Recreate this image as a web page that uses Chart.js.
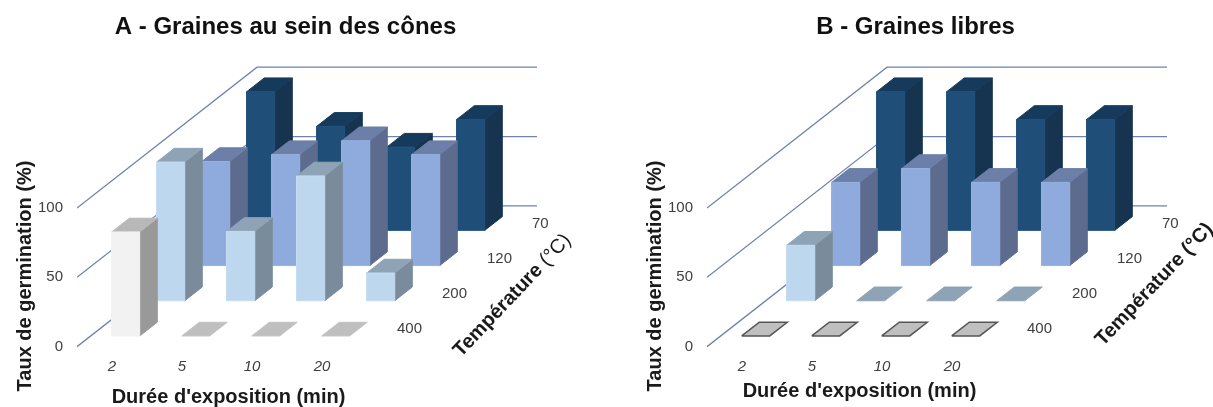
<!DOCTYPE html>
<html>
<head>
<meta charset="utf-8">
<style>
  html, body { margin: 0; background: #fff; }
  canvas { position: absolute; top: 0; }
</style>
<script src="https://cdn.jsdelivr.net/npm/chart.js@4"></script>
</head>
<body>
<canvas id="panelA" width="583" height="407" style="left:0"></canvas>
<canvas id="panelB" width="583" height="407" style="left:630px"></canvas>
<script>
// Data (germination %)
const DURATIONS = ["2", "5", "10", "20"];
const TEMPERATURES = ["70", "120", "200", "400"];
const VALUE_TICKS = [0, 50, 100];

const A_70 = [100, 75, 60, 80];
const A_120 = [75, 80, 90, 80];
const A_200 = [100, 50, 90, 20];
const A_400 = [75, 0, 0, 0];

const B_70 = [100, 100, 80, 80];
const B_120 = [60, 70, 60, 60];
const B_200 = [40, 0, 0, 0];
const B_400 = [0, 0, 0, 0];

const FONT = "'Liberation Sans', Arial, sans-serif";

// face colours per temperature row
const ROW_COLORS = [
  { front: "#1f4e79", top: "#163a5c", side: "#16334f", edge: "#23527d" },
  { front: "#8faadc", top: "#6b7fa8", side: "#5c6b8e", edge: "#98b1df" },
  { front: "#bdd7ee", top: "#8ea3b5", side: "#7a8c9c", edge: "#c5dcf0" },
  { front: "#f2f2f2", top: "#b8b8b8", side: "#999999", edge: "#f2f2f2" },
];

// oblique projection: one row of depth moves this much in scale units
const DEPTH_X = 45 / 70;
const DEPTH_Y = 35.2 / 1.387;
const BAR_W = 0.4;
const BAR_D = 0.39;

// layout, px
const AXIS_W = 77, TITLE_H = 54, AREA_BOTTOM = 356, ZERO_Y = 346.7;
const PX_X = 70, PX_Y = 1.387, RIGHT_PAD = 12, CANVAS_W = 583;

function project(c, d, v) {
  return { x: c + d * DEPTH_X, y: v + d * DEPTH_Y };
}

function face(points, fill, edge, width) {
  return {
    data: points.concat([points[0]]),
    showLine: true,
    fill: "shape",
    backgroundColor: fill,
    borderColor: edge,
    borderWidth: width === undefined ? 1 : width,
    pointRadius: 0,
    tension: 0,
  };
}

function gridLine(v) {
  const n = DURATIONS.length, depth = TEMPERATURES.length;
  return {
    data: [project(0, 0, v), project(0, depth, v), project(n, depth, v)],
    showLine: true,
    fill: false,
    borderColor: "#6f83ad",
    borderWidth: 1.3,
    pointRadius: 0,
    tension: 0,
  };
}

function buildDatasets(rows, floorEdge) {
  const sets = VALUE_TICKS.map(gridLine);
  // back row first so that front rows paint over it
  rows.forEach((row, t) => {
    const d0 = TEMPERATURES.length - 1 - t + (1 - BAR_D) / 2;
    const d1 = d0 + BAR_D;
    const col = ROW_COLORS[t];
    row.forEach((v, i) => {
      const c0 = i + (1 - BAR_W) / 2;
      const c1 = c0 + BAR_W;
      if (v === 0) {
        sets.push(face(
          [project(c0, d0, 0), project(c1, d0, 0), project(c1, d1, 0), project(c0, d1, 0)],
          t === 3 ? "#bfbfbf" : col.top,
          t === 3 && floorEdge ? floorEdge : (t === 3 ? "#c4c4c4" : col.top),
          t === 3 && floorEdge ? 1.5 : 1
        ));
        return;
      }
      sets.push(face(
        [project(c1, d0, 0), project(c1, d1, 0), project(c1, d1, v), project(c1, d0, v)],
        col.side, col.side
      ));
      sets.push(face(
        [project(c0, d0, v), project(c1, d0, v), project(c1, d1, v), project(c0, d1, v)],
        col.top, col.top
      ));
      sets.push(face(
        [project(c0, d0, 0), project(c1, d0, 0), project(c1, d0, v), project(c0, d0, v)],
        col.front, col.edge
      ));
    });
  });
  // chart.js paints the last dataset first
  return sets.reverse();
}

// axis titles and the depth axis labels
const depthAxis = {
  id: "depthAxis",
  afterDraw(chart, args, opts) {
    const { ctx, scales } = chart;
    ctx.save();
    ctx.fillStyle = "#404040";
    ctx.font = "15px " + FONT;
    ctx.textAlign = "left";
    ctx.textBaseline = "middle";
    TEMPERATURES.forEach((label, t) => {
      const d = TEMPERATURES.length - 1 - t + 0.5;
      const p = project(DURATIONS.length + 0.25, d, 0);
      ctx.fillText(label, scales.x.getPixelForValue(p.x), scales.y.getPixelForValue(p.y));
    });

    ctx.fillStyle = "#1a1a1a";
    ctx.font = "bold 20px " + FONT;
    ctx.textAlign = "center";
    ctx.fillText(opts.xTitle, opts.xTitleAt[0], opts.xTitleAt[1]);

    ctx.save();
    ctx.translate(25, 276);
    ctx.rotate(-Math.PI / 2);
    ctx.fillText("Taux de germination (%)", 0, 0);
    ctx.restore();

    ctx.save();
    ctx.translate(opts.tempAt[0], opts.tempAt[1]);
    ctx.rotate(-46.5 * Math.PI / 180);
    ctx.textAlign = "left";
    ctx.font = "bold 20px " + FONT;
    ctx.fillText("Température", 0, 0);
    const w = ctx.measureText("Température ").width;
    ctx.font = opts.unitFont + "20px " + FONT;
    ctx.fillText("(°C)", w, 0);
    ctx.restore();
    ctx.restore();
  },
};

function drawPanel(id, title, rows, floorEdge, opts) {
  const right = CANVAS_W - RIGHT_PAD;
  new Chart(document.getElementById(id), {
    type: "scatter",
    data: { datasets: buildDatasets(rows, floorEdge) },
    plugins: [depthAxis],
    options: {
      responsive: false,
      animation: false,
      events: [],
      layout: { padding: { left: 0, right: RIGHT_PAD, top: 0, bottom: 0 } },
      plugins: {
        legend: { display: false },
        tooltip: { enabled: false },
        title: {
          display: true,
          text: title,
          color: "#111",
          font: { family: FONT, size: 24, weight: "bold", lineHeight: 1.2 },
          padding: { top: 13.4, bottom: 11.8 },
        },
        depthAxis: opts,
      },
      scales: {
        x: {
          type: "linear",
          min: 0,
          max: (right - AXIS_W) / PX_X,
          grid: { display: false, drawTicks: false },
          border: { display: false },
          afterBuildTicks(s) { s.ticks = DURATIONS.map((_, i) => ({ value: i + 0.5 })); },
          afterFit(s) { s.height = 407 - AREA_BOTTOM; },
          ticks: {
            autoSkip: false,
            maxRotation: 0,
            padding: 2,
            color: "#404040",
            font: { family: FONT, size: 15, style: "italic" },
            callback: (v, i) => DURATIONS[i],
          },
        },
        y: {
          type: "linear",
          min: (ZERO_Y - AREA_BOTTOM) / PX_Y,
          max: (ZERO_Y - TITLE_H) / PX_Y,
          grid: { display: false, drawTicks: false },
          border: { display: false },
          afterBuildTicks(s) { s.ticks = VALUE_TICKS.map(v => ({ value: v })); },
          afterFit(s) { s.width = AXIS_W; },
          ticks: {
            padding: 14,
            color: "#404040",
            font: { family: FONT, size: 15 },
            callback: v => String(v),
          },
        },
      },
    },
  });
}

drawPanel("panelA", "A - Graines au sein des cônes", [A_70, A_120, A_200, A_400], null, {
  xTitle: "Durée d'exposition (min)", xTitleAt: [228.5, 397], tempAt: [457, 354], unitFont: "",
});
drawPanel("panelB", "B - Graines libres", [B_70, B_120, B_200, B_400], "#555555", {
  xTitle: "Durée d'exposition (min)", xTitleAt: [229.5, 391], tempAt: [469, 343], unitFont: "bold ",
});
</script>
</body>
</html>
